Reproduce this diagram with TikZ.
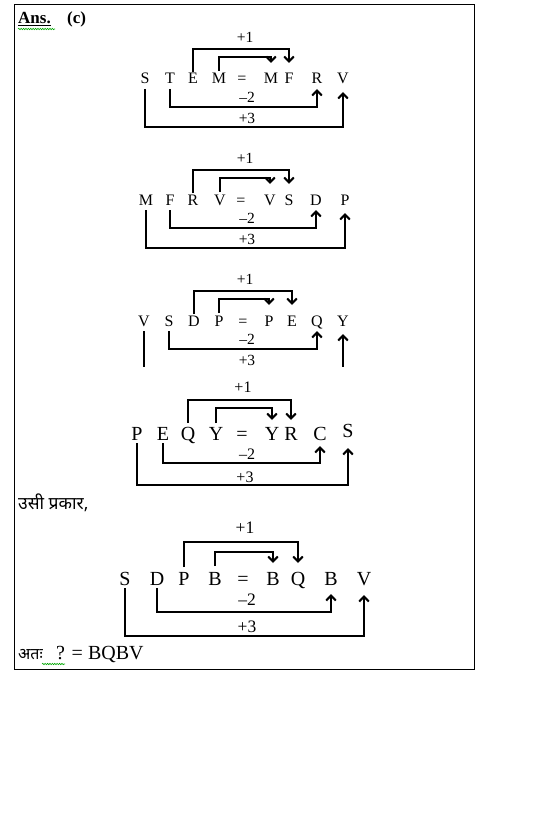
\documentclass[tikz,border=0pt]{standalone}
\usepackage{fontspec}
\setmainfont{Liberation Serif}
\newfontfamily\deva[Script=Devanagari]{Noto Sans}
\usetikzlibrary{arrows.meta,decorations.pathmorphing}
\newcommand\blk[3]{%
\begin{scope}[shift={(0,#2)}]
\foreach \t/\x [count=\i] in {#3} \node[ltrA] (#1\i) at (\x,84) {\t};
\node[labA] (#1p1) at (245,37) {+1};
\node[labA] (#1m2) at (247,97) {–2};
\node[labA] (#1p3) at (247,118) {+3};
\draw[arr] (#13 |- 0,72) -- (#13 |- 0,49) -- (#17 |- 0,49) -- (#17 |- 0,63);
\draw[arr] (#14 |- 0,71) -- (#14 |- 0,57) -- (#16 |- 0,57) -- (#16 |- 0,63);
\draw[arr] (#12 |- 0,89) -- (#12 |- 0,107) -- (#18 |- 0,107) -- (#18 |- 0,89);
\draw[arr] (#11 |- 0,89) -- (#11 |- 0,127) -- (#19 |- 0,127) -- (#19 |- 0,92);
\end{scope}}
\begin{document}
\begin{tikzpicture}[x=1pt,y=-1pt,
  arr/.style={line width=2.1pt,-{Straight Barb[length=5pt,width=9.5pt]}},
  ltrA/.style={font=\fontsize{16}{16}\selectfont,inner sep=0pt,anchor=base},
  labA/.style={font=\fontsize{15.5}{15.5}\selectfont,inner sep=0pt},
  ltrB/.style={font=\fontsize{20}{20}\selectfont,inner sep=0pt,anchor=base},
  labB/.style={font=\fontsize{16}{16}\selectfont,inner sep=0pt},
  labC/.style={font=\fontsize{17.5}{17.5}\selectfont,inner sep=0pt},
  wavy/.style={draw=green!65!black,line width=0.6pt,decorate,decoration={snake,amplitude=0.7pt,segment length=2.4pt}},
  txt/.style={inner sep=0pt,anchor=base west}
]
\useasboundingbox (0,0) rectangle (553,840);
\draw[line width=0.9pt] (14,4) rectangle (474,669);
% heading
\node[txt,font=\bfseries\fontsize{17}{17}\selectfont] (ans) at (18,24) {\underline{Ans.}};
\node[txt,font=\bfseries\fontsize{17}{17}\selectfont] (opt) at (67,24) {(c)};
\draw[wavy] (18,29) -- (55,29);
% blocks 1-3
\blk{a}{0}{S/145,T/170,E/193,M/219,=/242,M/271,F/289,R/317,V/343}
\blk{b}{121}{M/146,F/170,R/193,V/220,=/241,V/270,S/289,D/316,P/345}
\begin{scope}
\clip (0,0) rectangle (553,366);
\blk{c}{242}{V/144,S/169,D/194,P/219,=/243,P/269,E/292,Q/317,Y/343}
\end{scope}
% block 4
\foreach \t/\x/\y [count=\i] in {P/137/440,E/163/440,Q/188/440,Y/216/440,=/242/440,Y/272/440,R/291/440,C/320/440,S/348/437}
  \node[ltrB] (d\i) at (\x,\y) {\t};
\node[labB] (dp1) at (243,387) {+1};
\node[labB] (dm2) at (247,454) {–2};
\node[labB] (dp3) at (245,477) {+3};
\draw[arr] (d3 |- 0,423) -- (d3 |- 0,400) -- (d7 |- 0,400) -- (d7 |- 0,420);
\draw[arr] (d4 |- 0,423) -- (d4 |- 0,408) -- (d6 |- 0,408) -- (d6 |- 0,420);
\draw[arr] (d2 |- 0,443) -- (d2 |- 0,463) -- (d8 |- 0,463) -- (d8 |- 0,446);
\draw[arr] (d1 |- 0,443) -- (d1 |- 0,485) -- (d9 |- 0,485) -- (d9 |- 0,448);
% similarly
\node[txt,font=\deva\fontsize{17.5}{17.5}\selectfont] (usi) at (18,509) {उसी प्रकार,};
% block 5
\foreach \t/\x [count=\i] in {S/125,D/157,P/184,B/215,=/243,B/273,Q/298,B/331,V/364}
  \node[ltrB] (e\i) at (\x,585) {\t};
\node[labC] (ep1) at (245,528) {+1};
\node[labC] (em2) at (247,600) {–2};
\node[labC] (ep3) at (247,627) {+3};
\draw[arr] (e3 |- 0,567) -- (e3 |- 0,542) -- (e7 |- 0,542) -- (e7 |- 0,563);
\draw[arr] (e4 |- 0,566) -- (e4 |- 0,552) -- (e6 |- 0,552) -- (e6 |- 0,563);
\draw[arr] (e2 |- 0,588) -- (e2 |- 0,612) -- (e8 |- 0,612) -- (e8 |- 0,594);
\draw[arr] (e1 |- 0,588) -- (e1 |- 0,636) -- (e9 |- 0,636) -- (e9 |- 0,595);
% answer
\node[txt,font=\deva\fontsize{16}{16}\selectfont] (ata) at (18,659) {अतः};
\node[txt,font=\fontsize{20}{20}\selectfont] (res) at (56,659) {? = BQBV};
\draw[wavy] (42,664) -- (65,664);
\end{tikzpicture}
\end{document}
